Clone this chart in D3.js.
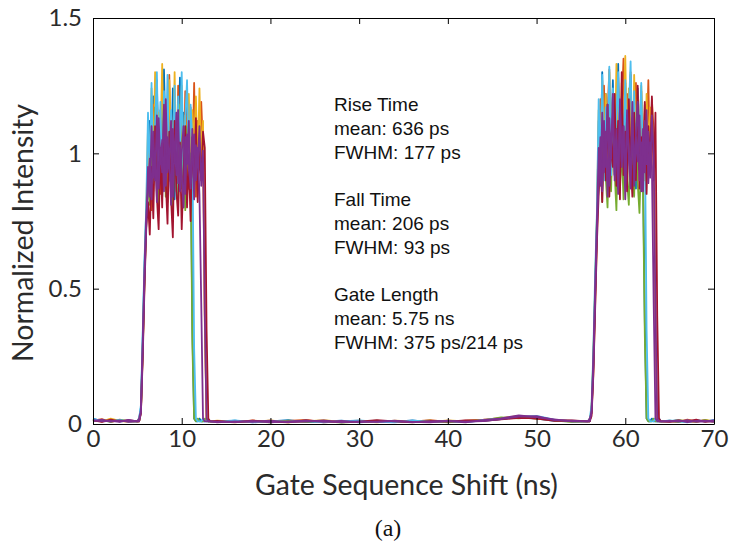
<!DOCTYPE html>
<html><head><meta charset="utf-8">
<script src="https://cdn.jsdelivr.net/npm/d3@7/dist/d3.min.js"></script>
<style>body{margin:0;background:#fff}</style>
</head><body><svg id="c" width="737" height="551"></svg>
<script>
// ---------- data ----------
const xTicks = [0, 10, 20, 30, 40, 50, 60, 70];
const yTicks = [0, 0.5, 1, 1.5];
const yTickLabels = ["0", "0.5", "1", "1.5"];
const xLabel = "Gate Sequence Shift (ns)";
const yLabel = "Normalized Intensity";
const caption = "(a)";
const notes = ["Rise Time", "mean: 636 ps", "FWHM: 177 ps", "", "Fall Time", "mean: 206 ps", "FWHM: 93 ps", "", "Gate Length", "mean: 5.75 ns", "FWHM: 375 ps/214 ps"];

const seriesNames = ["blue", "orange", "yellow", "green", "cyan", "red", "purpleA", "purpleB"];
const seriesColors = ["#0072BD", "#D95319", "#EDB120", "#77AC30", "#4DBEEE", "#A2142F", "#7E2F8E", "#7E2F8E"];

// sampling times (ns)
const tBase = [0, 1, 2, 3, 4, 14, 16, 18, 20, 22, 24, 26, 28, 30, 32, 34, 36, 38, 40, 42, 44, 46, 48, 50, 52, 54, 65, 66, 67, 68, 69, 70];
const tPulse1 = [5.0, 5.2, 5.4, 5.6, 5.8, 6.0, 6.2, 6.4, 6.6, 6.8, 7.0, 7.2, 7.4, 7.6, 7.8, 8.0, 8.2, 8.4, 8.6, 8.8, 9.0, 9.2, 9.4, 9.6, 9.8, 10.0, 10.2, 10.4, 10.6, 10.8, 11.0, 11.2, 11.4, 11.6, 11.8, 12.0, 12.2, 12.4, 12.6, 12.8, 13.0, 13.2];
const tPulse2 = [55.8, 56.0, 56.2, 56.4, 56.6, 56.8, 57.0, 57.2, 57.4, 57.6, 57.8, 58.0, 58.2, 58.4, 58.6, 58.8, 59.0, 59.2, 59.4, 59.6, 59.8, 60.0, 60.2, 60.4, 60.6, 60.8, 61.0, 61.2, 61.4, 61.6, 61.8, 62.0, 62.2, 62.4, 62.6, 62.8, 63.0, 63.2, 63.4, 63.6, 63.8, 64.0, 64.2];

// baseline values per trace (on tBase)
const baseBlue = [0.02,0.01,0.015,0.01,0.012, 0.008,0.012,0.006,0.01,0.014,0.007,0.009,0.012,0.006,0.01,0.008,0.013,0.007,0.01,0.009,0.012,0.018,0.025,0.02,0.012,0.01, 0.01,0.015,0.008,0.012,0.01,0.014];
const baseOrange = [0.012,0.018,0.008,0.014,0.01, 0.01,0.006,0.013,0.008,0.011,0.015,0.006,0.01,0.012,0.007,0.011,0.009,0.014,0.008,0.012,0.016,0.022,0.028,0.019,0.014,0.009, 0.012,0.008,0.016,0.01,0.013,0.009];
const baseYellow = [0.015,0.009,0.02,0.012,0.008, 0.012,0.009,0.007,0.013,0.006,0.01,0.014,0.008,0.011,0.006,0.012,0.01,0.007,0.013,0.01,0.014,0.02,0.03,0.024,0.015,0.011, 0.009,0.014,0.011,0.007,0.015,0.01];
const baseGreen = [0.01,0.014,0.008,0.016,0.011, 0.007,0.011,0.009,0.006,0.012,0.008,0.011,0.005,0.009,0.012,0.007,0.01,0.012,0.006,0.011,0.013,0.024,0.021,0.027,0.013,0.008, 0.011,0.007,0.012,0.009,0.014,0.008];
const baseCyan = [0.018,0.012,0.01,0.015,0.009, 0.009,0.013,0.007,0.011,0.008,0.012,0.006,0.01,0.013,0.008,0.006,0.012,0.009,0.011,0.007,0.015,0.019,0.026,0.03,0.016,0.01, 0.013,0.01,0.006,0.015,0.009,0.012];
const baseRed = [0.013,0.008,0.016,0.01,0.014, 0.011,0.007,0.012,0.009,0.006,0.013,0.01,0.007,0.009,0.014,0.01,0.006,0.011,0.009,0.013,0.012,0.017,0.023,0.021,0.012,0.013, 0.008,0.012,0.01,0.016,0.008,0.011];
const basePurpleA = [0.011,0.016,0.009,0.013,0.008, 0.006,0.01,0.008,0.012,0.007,0.009,0.013,0.006,0.01,0.008,0.012,0.007,0.01,0.011,0.006,0.014,0.021,0.032,0.025,0.017,0.01, 0.01,0.013,0.007,0.011,0.012,0.008];
const basePurpleB = [0.014,0.01,0.012,0.008,0.015, 0.009,0.007,0.011,0.006,0.01,0.012,0.008,0.011,0.007,0.009,0.011,0.008,0.006,0.012,0.009,0.011,0.018,0.027,0.029,0.014,0.012, 0.011,0.009,0.014,0.008,0.01,0.013];

// first gate pulse (on tPulse1)
const p1Blue = [0.01,0.02,0.06,0.31,0.58,0.79, 0.93,1.12,0.86,1.21,0.95,1.27,0.9,1.16,0.84,1.31,1.02,0.88,1.19,0.92,1.24,0.83,1.1,0.97,1.28,0.89,1.15,0.94,1.22,0.87,1.05, 0.35,0.02,0.01,0.01,0.02,0.01,0.01,0.01,0.02,0.01,0.01];
const p1Orange = [0.01,0.01,0.04,0.26,0.52,0.74, 0.88,1.05,0.79,1.18,0.93,1.22,1.0,0.85,1.26,0.96,1.13,0.82,1.29,0.91,1.08,1.2,0.86,1.25,0.95,1.11,0.8,1.23,0.99,0.87,1.17,0.92,1.26,0.84,1.12,0.96,1.19,1.02, 0.42,0.02,0.01,0.01];
const p1Yellow = [0.01,0.02,0.05,0.28,0.55,0.77, 1.1,0.9,1.24,0.97,1.3,0.86,1.15,1.02,1.33,0.9,1.2,0.95,1.27,1.06,0.88,1.3,0.93,1.18,1.01,1.25,0.89,1.14,0.97,1.22,0.9,1.16,1.04,1.21,0.94,1.24,0.98,1.12, 0.38,0.02,0.01,0.01];
const p1Green = [0.01,0.01,0.05,0.27,0.54,0.75, 0.9,0.81,1.08,0.86,1.17,0.92,0.78,1.12,0.88,1.2,0.84,1.05,0.9,1.14,0.8,1.09,0.95,0.83,1.18,0.87,1.02,0.79,1.1,0.91,1.0, 0.3,0.02,0.01,0.02,0.01,0.01,0.01,0.02,0.01,0.01,0.01];
const p1Cyan = [0.01,0.02,0.07,0.33,0.6,0.8, 1.15,0.92,1.26,0.88,1.1,1.3,0.94,1.19,0.86,1.23,1.0,1.29,0.9,1.16,0.97,1.25,0.85,1.21,0.99,1.3,0.92,1.13,1.27,0.96,1.18,1.05, 0.28,0.02,0.01,0.01,0.01,0.02,0.01,0.01,0.01,0.01];
const p1Red = [0.01,0.01,0.04,0.24,0.5,0.72, 0.82,0.7,0.95,0.76,1.1,0.84,0.72,1.02,0.8,1.15,0.9,0.74,1.08,0.83,0.69,1.12,0.86,0.77,1.04,0.72,0.93,1.1,0.8,0.98,0.75,1.06,0.88,1.13,0.82,1.01,0.9,1.08,1.02, 0.35,0.02,0.01];
const p1PurpleA = [0.01,0.02,0.05,0.29,0.56,0.76, 0.86,0.98,0.83,1.08,0.9,1.14,0.87,1.02,0.93,1.18,0.88,1.06,0.95,1.12,0.84,1.04,0.92,1.16,0.86,1.0,1.1,0.85,1.07,0.94,0.89,1.09,0.83,1.03,0.95,1.1,0.88,1.01, 0.4,0.02,0.01,0.01];
const p1PurpleB = [0.01,0.01,0.04,0.27,0.53,0.74, 0.95,0.84,1.1,0.91,1.0,0.82,1.13,0.96,1.05,0.86,1.2,0.93,0.99,0.81,1.09,0.97,1.15,0.89,1.03,0.92,0.8,1.06,0.96,1.12,0.87,0.99,1.07,0.9,1.02,0.85, 0.45,0.02,0.01,0.01,0.01,0.01];

// second gate pulse (on tPulse2)
const p2Blue = [0.01,0.01,0.05,0.22,0.48,0.73, 1.12,0.9,1.3,0.95,1.22,0.86,1.18,1.01,1.27,0.92,1.15,1.33,0.88,1.2,0.97,1.26,0.9,1.13,1.29,0.94,1.17,0.87,1.24,1.0,1.19,0.93, 0.38,0.02,0.01,0.01,0.02,0.01,0.01,0.01,0.02,0.01,0.01];
const p2Orange = [0.01,0.02,0.04,0.19,0.44,0.69, 0.98,1.2,0.88,1.25,0.93,1.14,1.31,0.9,1.21,1.03,0.85,1.28,0.96,1.17,1.35,0.91,1.22,0.99,1.3,0.87,1.16,1.26,0.94,1.1,1.23,0.89,1.18,1.02,1.27,0.92,1.2,1.08, 0.42,0.02,0.01,0.01,0.01];
const p2Yellow = [0.01,0.01,0.05,0.24,0.5,0.75, 1.16,0.93,1.27,1.0,1.22,0.89,1.3,1.05,1.19,0.95,1.33,1.1,0.9,1.26,1.02,1.36,0.97,1.24,1.08,0.91,1.29,1.01,1.2,0.94,1.25,1.06,0.9,1.22,1.0,1.17,1.12,1.04, 0.4,0.02,0.01,0.01,0.01];
const p2Green = [0.01,0.01,0.06,0.25,0.51,0.76, 0.88,1.05,0.82,1.12,0.91,0.8,1.08,0.86,1.15,0.93,0.79,1.1,0.87,1.02,0.83,1.14,0.9,0.81,1.06,0.95,0.84,1.11,0.89,0.78,1.0,0.86, 0.33,0.02,0.01,0.01,0.01,0.02,0.01,0.01,0.01,0.01,0.01];
const p2Cyan = [0.01,0.02,0.07,0.27,0.55,0.78, 1.2,0.95,1.29,0.9,1.17,1.03,1.32,0.92,1.24,0.98,1.14,1.3,0.89,1.21,1.0,1.27,0.93,1.16,1.34,0.96,1.23,0.9,1.18,1.05,1.26,0.94,1.1, 0.35,0.02,0.01,0.01,0.01,0.02,0.01,0.01,0.01,0.01];
const p2Red = [0.01,0.01,0.03,0.18,0.42,0.67, 0.85,1.0,0.82,1.1,0.9,1.18,0.84,1.05,0.95,1.22,0.88,1.12,0.83,1.3,0.92,1.08,0.86,1.2,0.97,0.84,1.15,0.9,1.25,0.87,1.06,0.93,1.19,0.85,1.1,0.96,1.21,0.9,1.15, 0.4,0.02,0.01,0.01];
const p2PurpleA = [0.01,0.02,0.04,0.21,0.47,0.72, 0.9,1.06,0.86,1.12,0.95,1.18,0.88,1.03,1.15,0.92,1.09,0.85,1.2,0.97,1.1,0.89,1.16,1.0,0.87,1.13,0.94,1.07,1.19,0.9,1.04,0.86,1.12,0.96,1.08,0.91,1.14,1.0, 0.43,0.02,0.01,0.01,0.01];
const p2PurpleB = [0.01,0.01,0.05,0.23,0.49,0.74, 1.02,0.88,1.15,0.93,1.08,0.84,1.13,0.98,1.22,0.9,1.05,0.87,1.17,0.95,1.1,0.83,1.12,1.0,0.92,1.19,0.88,1.06,0.97,1.14,0.86,1.09,0.93,1.16,0.89,1.04,0.95, 0.45,0.02,0.01,0.01,0.01,0.01];

const baseValues = [baseBlue, baseOrange, baseYellow, baseGreen, baseCyan, baseRed, basePurpleA, basePurpleB];
const pulse1Values = [p1Blue, p1Orange, p1Yellow, p1Green, p1Cyan, p1Red, p1PurpleA, p1PurpleB];
const pulse2Values = [p2Blue, p2Orange, p2Yellow, p2Green, p2Cyan, p2Red, p2PurpleA, p2PurpleB];

// ---------- drawing ----------
const svg = d3.select("#c");
const L = 93, R = 714, T = 18, B = 424;
const x = d3.scaleLinear().domain([0, 70]).range([L, R]);
const y = d3.scaleLinear().domain([0, 1.5]).range([B, T]);

function zip(ts, vs) { const n = Math.min(ts.length, vs.length); const o = []; for (let i = 0; i < n; i++) o.push([ts[i], vs[i]]); return o; }

const traces = seriesNames.map((name, i) => {
  const pts = zip(tBase, baseValues[i]).concat(zip(tPulse1, pulse1Values[i]), zip(tPulse2, pulse2Values[i]));
  pts.sort((a, b) => a[0] - b[0]);
  return { name, color: seriesColors[i], pts };
});

const line = d3.line().x(d => x(d[0])).y(d => y(d[1]));
svg.append("g").selectAll("path").data(traces).join("path")
  .attr("d", d => line(d.pts)).attr("fill", "none")
  .attr("stroke", d => d.color).attr("stroke-width", 1.8)
  .attr("stroke-linejoin", "round");

const tickFont = "Lato, 'Open Sans', sans-serif";
const txtCol = "#2b2b2b";

// bottom axis
const gx = svg.append("g").attr("transform", `translate(0,${B})`)
  .call(d3.axisBottom(x).tickValues(xTicks).tickSize(-6).tickSizeOuter(0).tickPadding(6).tickFormat(d3.format("d")));
gx.selectAll("text").attr("font-family", tickFont).attr("font-size", 24).attr("fill", txtCol);
// top axis
svg.append("g").attr("transform", `translate(0,${T})`)
  .call(d3.axisTop(x).tickValues(xTicks).tickSize(-6).tickSizeOuter(0).tickFormat(""));
// left axis
const gy = svg.append("g").attr("transform", `translate(${L},0)`)
  .call(d3.axisLeft(y).tickValues(yTicks).tickSize(-6).tickSizeOuter(0).tickPadding(11).tickFormat((d, i) => yTickLabels[i]));
gy.selectAll("text").attr("font-family", tickFont).attr("font-size", 24).attr("fill", txtCol);
// right axis
svg.append("g").attr("transform", `translate(${R},0)`)
  .call(d3.axisRight(y).tickValues(yTicks).tickSize(-6).tickSizeOuter(0).tickFormat(""));
svg.selectAll(".domain").attr("stroke", "#000").attr("stroke-width", 1);
svg.selectAll(".tick line").attr("stroke", "#000").attr("stroke-width", 1);

function fitWidth(sel, target) {
  const w = sel.node().getComputedTextLength();
  const fs = parseFloat(sel.attr("font-size"));
  sel.attr("font-size", (fs * target / w).toFixed(2));
}

// axis titles
const xt = svg.append("text").attr("x", 406.5).attr("y", 495).attr("text-anchor", "middle")
  .attr("font-family", tickFont).attr("font-size", 28).attr("fill", txtCol).text(xLabel);
fitWidth(xt, 303);
const yt = svg.append("text").attr("transform", "translate(33,233) rotate(-90)").attr("text-anchor", "middle")
  .attr("font-family", tickFont).attr("font-size", 28).attr("fill", txtCol).text(yLabel);
fitWidth(yt, 258);

// caption
svg.append("text").attr("x", 388).attr("y", 536).attr("text-anchor", "middle")
  .attr("font-family", "'Liberation Serif', 'Times New Roman', serif").attr("font-size", 24).attr("fill", "#111").text(caption);

// annotation
const ann = svg.append("g");
notes.forEach((s, i) => {
  if (!s) return;
  ann.append("text").attr("x", 334).attr("y", 111 + i * 23.8)
    .attr("font-family", "'Liberation Sans', Arial, sans-serif").attr("font-size", 19).attr("fill", "#111").text(s);
});
</script>
</body></html>
